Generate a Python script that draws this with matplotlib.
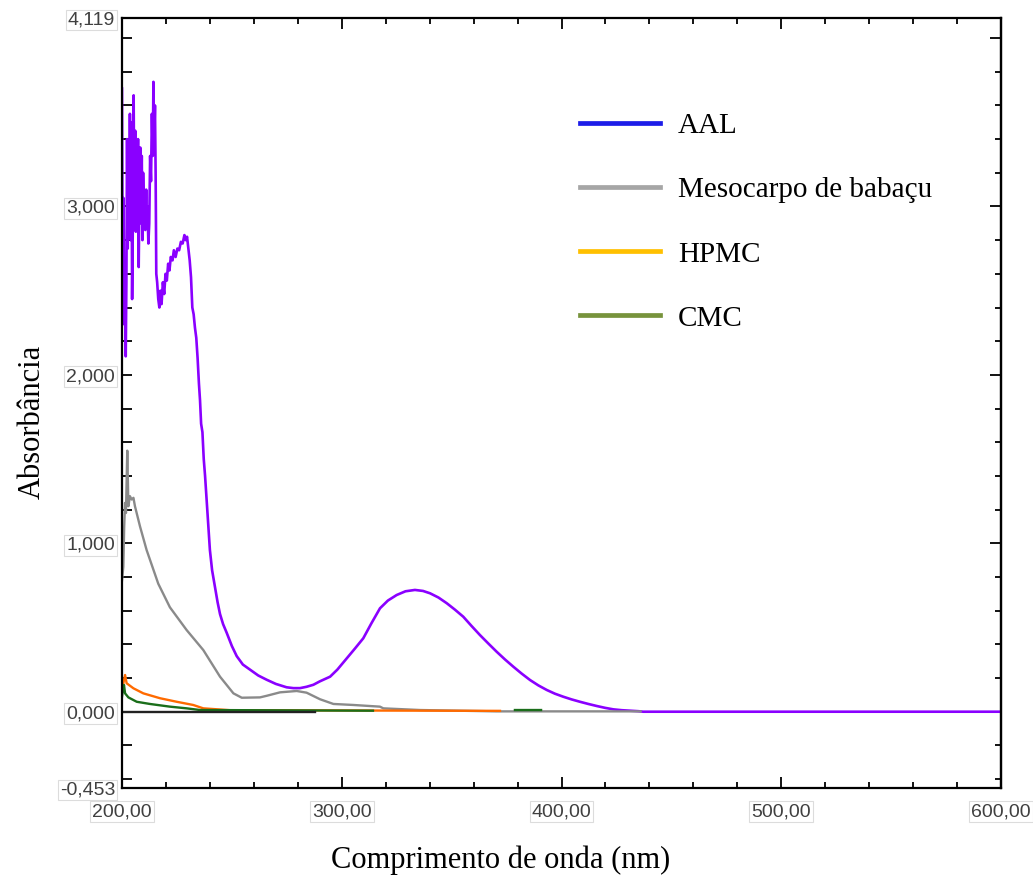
import numpy as np
import matplotlib.pyplot as plt
from matplotlib.lines import Line2D
from matplotlib.ticker import FixedLocator, MultipleLocator, NullFormatter

# espectros UV-Vis (nm, absorbancia)
aal_nm = [200.0, 200.2, 200.4, 200.7, 201.0, 201.3, 201.7, 202.0, 202.3, 202.6,
          203.0, 203.3, 203.6, 204.0, 204.3, 204.6, 205.0, 205.3, 205.6, 206.0,
          206.3, 206.6, 207.0, 207.3, 207.6, 208.0, 208.3, 208.6, 209.0, 209.3,
          209.6, 210.0, 210.3, 210.6, 211.0, 211.3, 211.6, 212.0, 212.4, 212.8,
          213.2, 213.6, 214.0, 214.3, 214.6, 215.0, 215.3, 215.6, 216.0, 216.5,
          217.0, 217.5, 218.0, 218.6, 219.2, 219.8, 220.4, 221.0, 221.6, 222.2,
          223.0, 223.6, 224.4, 225.2, 226.0, 226.8, 227.6, 228.4, 229.0, 229.6,
          230.2, 230.8, 231.4, 232.0, 232.6, 233.2, 233.8, 234.4, 235.0, 235.5,
          236.0, 236.6, 237.2, 237.8, 238.4, 239.0, 240.0, 241.0, 242.3, 243.5,
          244.6, 246.0, 247.6, 250.0, 252.2, 255.0, 258.2, 262.0, 265.8, 270.0,
          274.9, 278.0, 281.0, 284.0, 287.1, 290.0, 294.7, 298.0, 302.3, 306.0,
          309.8, 313.5, 317.4, 321.0, 325.0, 329.0, 333.3, 337.0, 340.2, 344.0,
          347.8, 351.5, 355.3, 359.0, 362.9, 366.7, 370.5, 374.3, 378.1, 381.9,
          385.7, 389.5, 393.3, 397.0, 400.8, 404.6, 408.4, 412.2, 416.0, 419.8,
          423.6, 427.4, 431.2, 435.0, 437.2, 600.0]
aal_abs = [3.70, 2.95, 2.45, 3.05, 2.30, 2.60, 2.11, 2.55, 3.40, 2.75,
           3.30, 2.90, 3.55, 2.80, 3.50, 2.45, 3.00, 3.66, 2.95, 3.45,
           2.85, 3.30, 3.05, 3.40, 2.64, 3.15, 3.35, 2.90, 3.30, 2.80,
           3.20, 2.95, 3.05, 2.86, 3.10, 2.90, 3.00, 2.78, 2.90, 3.30,
           3.15, 3.55, 3.30, 3.74, 3.35, 3.60, 3.20, 2.60, 2.55, 2.45,
           2.40, 2.50, 2.42, 2.55, 2.48, 2.60, 2.56, 2.66, 2.62, 2.70,
           2.68, 2.74, 2.70, 2.75, 2.74, 2.79, 2.78, 2.83, 2.80, 2.82,
           2.75, 2.68, 2.58, 2.40, 2.36, 2.28, 2.22, 2.10, 1.95, 1.85,
           1.71, 1.66, 1.50, 1.40, 1.28, 1.15, 0.96, 0.84, 0.74, 0.65,
           0.58, 0.52, 0.47, 0.39, 0.33, 0.28, 0.25, 0.215, 0.19, 0.165,
           0.145, 0.14, 0.14, 0.148, 0.16, 0.18, 0.208, 0.25, 0.317, 0.375,
           0.436, 0.525, 0.614, 0.66, 0.693, 0.715, 0.723, 0.717, 0.703, 0.678,
           0.644, 0.606, 0.564, 0.51, 0.455, 0.405, 0.356, 0.31, 0.267, 0.226,
           0.188, 0.156, 0.129, 0.107, 0.089, 0.073, 0.059, 0.046, 0.034, 0.023,
           0.014, 0.009, 0.006, 0.003, 0.0, 0.0]

meso_nm = [200.0, 200.6, 201.0, 201.4, 201.8, 202.4, 202.9, 203.6, 204.4, 205.2,
           205.9, 208.2, 211.2, 216.5, 221.8, 229.4, 237.0, 244.6, 250.7, 254.5,
           262.8, 266.0, 271.9, 279.5, 284.0, 290.1, 296.2, 305.3, 317.4, 318.9,
           335.6, 370.5, 436.0]
meso_abs = [0.78, 0.86, 1.10, 1.24, 1.18, 1.55, 1.22, 1.28, 1.26, 1.27,
            1.22, 1.10, 0.96, 0.76, 0.62, 0.485, 0.366, 0.208, 0.109, 0.083,
            0.085, 0.095, 0.115, 0.123, 0.113, 0.074, 0.046, 0.040, 0.030, 0.020,
            0.010, 0.002, 0.002]

hpmc_nm = [200.0, 200.6, 201.4, 202.1, 205.2, 209.7, 217.3, 224.9, 232.4, 237.0,
           249.1, 372.0]
hpmc_abs = [0.14, 0.169, 0.218, 0.169, 0.139, 0.109, 0.080, 0.059, 0.040, 0.020,
            0.009, 0.005]

cmc_nm = [200.0, 200.3, 200.9, 201.4, 202.9, 206.7, 212.7, 221.8, 229.4, 235.5,
          314.2, np.nan, 378.8, 390.7]
cmc_abs = [0.09, 0.119, 0.159, 0.109, 0.085, 0.059, 0.046, 0.030, 0.020, 0.010,
           0.006, np.nan, 0.010, 0.010]

base_nm = [200.0, 287.8]
base_abs = [0.0, 0.0]

legend_labels = ["AAL", "Mesocarpo de babaçu", "HPMC", "CMC"]
legend_colors = ["#1c1ce8", "#a6a6a6", "#ffc000", "#77933c"]

y_ticks = [-0.453, 0.0, 1.0, 2.0, 3.0, 4.119]
x_ticks = [200, 300, 400, 500, 600]

fig = plt.figure(figsize=(10.33, 8.84), dpi=100)
ax = fig.add_axes([122 / 1033, 96 / 884, 879 / 1033, 770 / 884])

ax.plot(aal_nm, aal_abs, color="#8a00ff", lw=1.9)
ax.plot(meso_nm, meso_abs, color="#8a8a8a", lw=1.7)
ax.plot(hpmc_nm, hpmc_abs, color="#ff6a00", lw=1.7)
ax.plot(cmc_nm, cmc_abs, color="#1a6e1a", lw=1.7)
ax.plot(base_nm, base_abs, color="#222222", lw=1.7)

ax.set_xlim(200, 600)
ax.set_ylim(-0.453, 4.119)

for s in ax.spines.values():
    s.set_linewidth(1.6)

ax.xaxis.set_major_locator(FixedLocator(x_ticks))
ax.xaxis.set_minor_locator(MultipleLocator(20))
ax.yaxis.set_major_locator(FixedLocator(y_ticks))
ax.yaxis.set_minor_locator(MultipleLocator(0.2))
ax.set_xticklabels([f"{v:.2f}".replace(".", ",") for v in x_ticks])
ax.set_yticklabels([f"{v:.3f}".replace(".", ",") for v in y_ticks])

ax.tick_params(axis="both", which="both", direction="in", top=True, right=False,
               width=1.3, colors="black")
ax.tick_params(axis="x", which="major", length=8, pad=11)
ax.tick_params(axis="x", which="minor", length=4.5)
ax.tick_params(axis="y", which="both", length=7, pad=5)

# eixo direito: marcas maiores nos inteiros, sem rotulos
ax_r = ax.secondary_yaxis("right")
ax_r.yaxis.set_major_locator(MultipleLocator(1))
ax_r.yaxis.set_minor_locator(MultipleLocator(0.2))
ax_r.yaxis.set_major_formatter(NullFormatter())
ax_r.tick_params(which="both", direction="in", width=1.3)
ax_r.tick_params(which="major", length=8)
ax_r.tick_params(which="minor", length=4.5)
ax_r.spines["right"].set_linewidth(1.6)

for lab in ax.get_xticklabels() + ax.get_yticklabels():
    lab.set_fontfamily("Liberation Sans")
    lab.set_fontsize(14)
    lab.set_color("#404040")
    lab.set_bbox(dict(boxstyle="square,pad=0.1", fc="white", ec="#dcdcdc", lw=0.8))

handles = [Line2D([], [], color=c, lw=3.4) for c in legend_colors]
ax.legend(handles, legend_labels, loc="upper left", bbox_to_anchor=(580 / 1033, 1 - 113 / 884),
          bbox_transform=fig.transFigure, frameon=False, borderpad=0, borderaxespad=0,
          handlelength=2.75, handletextpad=0.6, labelspacing=1.29,
          prop={"family": "Liberation Serif", "size": 21})

fig.text(501 / 1033, 1 - 860 / 884, "Comprimento de onda (nm)", ha="center", va="center",
         family="Liberation Serif", fontsize=22)
fig.text(32 / 1033, 1 - 422 / 884, "Absorbância", ha="center", va="center", rotation=90,
         family="Liberation Serif", fontsize=22)

fig.savefig("out.png", dpi=100)
